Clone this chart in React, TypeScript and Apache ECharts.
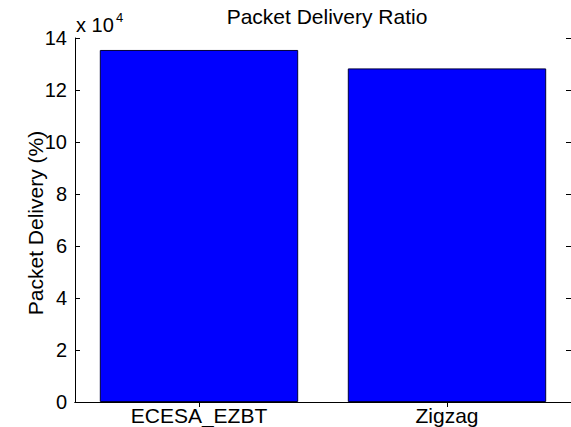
import React, { useEffect, useRef } from "react";
import * as echarts from "echarts";

const categories: string[] = ["ECESA_EZBT", "Zigzag"];
const deliveryValues: number[] = [135400, 128300];
const yTickValues: number[] = [0, 20000, 40000, 60000, 80000, 100000, 120000, 140000];
const titleText = "Packet Delivery Ratio";
const yAxisTitle = "Packet Delivery (%)";

const FONT = "'Liberation Sans', Arial, sans-serif";
const FS = 21;

export default function App() {
  const ref = useRef<HTMLDivElement>(null);
  useEffect(() => {
    if (!ref.current) return;
    const chart = echarts.init(ref.current, null, { renderer: "svg" });
    const yMax = yTickValues[yTickValues.length - 1];
    const yInterval = yTickValues[1] - yTickValues[0];
    chart.setOption({
      animation: false,
      backgroundColor: "#ffffff",
      textStyle: { fontFamily: FONT, color: "#000" },
      title: {
        text: titleText,
        left: 322,
        top: 1,
        textAlign: "center",
        textStyle: { fontFamily: FONT, fontSize: FS, fontWeight: "normal", color: "#000" },
      },
      grid: { left: 75, right: -1, top: 38, bottom: 25, containLabel: false },
      xAxis: [
        {
          type: "category",
          data: categories,
          position: "bottom",
          axisLine: { show: true, lineStyle: { color: "#000", width: 1 } },
          axisTick: { show: false },
          axisLabel: { color: "#000", fontFamily: FONT, fontSize: FS, margin: 3 },
          splitLine: { show: false },
        },
        {
          type: "category",
          data: categories,
          position: "top",
          axisLine: { show: true, lineStyle: { color: "#000", width: 1 } },
          axisTick: { show: true, inside: true, length: 5, alignWithLabel: true, lineStyle: { color: "#000" } },
          axisLabel: { show: false },
          splitLine: { show: false },
        },
      ],
      yAxis: [
        {
          type: "value",
          min: 0,
          max: yMax,
          interval: yInterval,
          position: "left",
          axisLine: { show: true, lineStyle: { color: "#000", width: 1 } },
          axisTick: { show: true, inside: true, length: 5, lineStyle: { color: "#000" } },
          axisLabel: {
            color: "#000",
            fontFamily: FONT,
            fontSize: 20,
            margin: 8,
            formatter: (v: number) => String(v / 10000),
          },
          splitLine: { show: false },
        },
        {
          type: "value",
          min: 0,
          max: yMax,
          interval: yInterval,
          position: "right",
          axisLine: { show: true, lineStyle: { color: "#000", width: 1 } },
          axisTick: { show: true, inside: true, length: 5, lineStyle: { color: "#000" } },
          axisLabel: { show: false },
          splitLine: { show: false },
        },
      ],
      graphic: [
        {
          type: "text",
          x: 35,
          y: 223,
          rotation: Math.PI / 2,
          style: {
            text: yAxisTitle,
            font: `${FS}px ${FONT}`,
            fill: "#000",
            align: "center",
            verticalAlign: "middle",
          },
        },
        {
          type: "text",
          left: 76,
          top: 15,
          style: {
            text: "x 10",
            font: `20px ${FONT}`,
            fill: "#000",
          },
        },
        {
          type: "text",
          left: 116,
          top: 11,
          style: {
            text: "4",
            font: `13px ${FONT}`,
            fill: "#000",
          },
        },
      ],
      series: [
        {
          type: "bar",
          xAxisIndex: 0,
          yAxisIndex: 0,
          data: deliveryValues,
          barCategoryGap: "20%",
          itemStyle: { color: "#0000ff", borderColor: "#00003a", borderWidth: 1 },
        },
      ],
    });
    return () => chart.dispose();
  }, []);
  return (
    <div
      ref={ref}
      style={{ position: "absolute", left: 0, top: 0, width: 571, height: 427, background: "#fff" }}
    />
  );
}
